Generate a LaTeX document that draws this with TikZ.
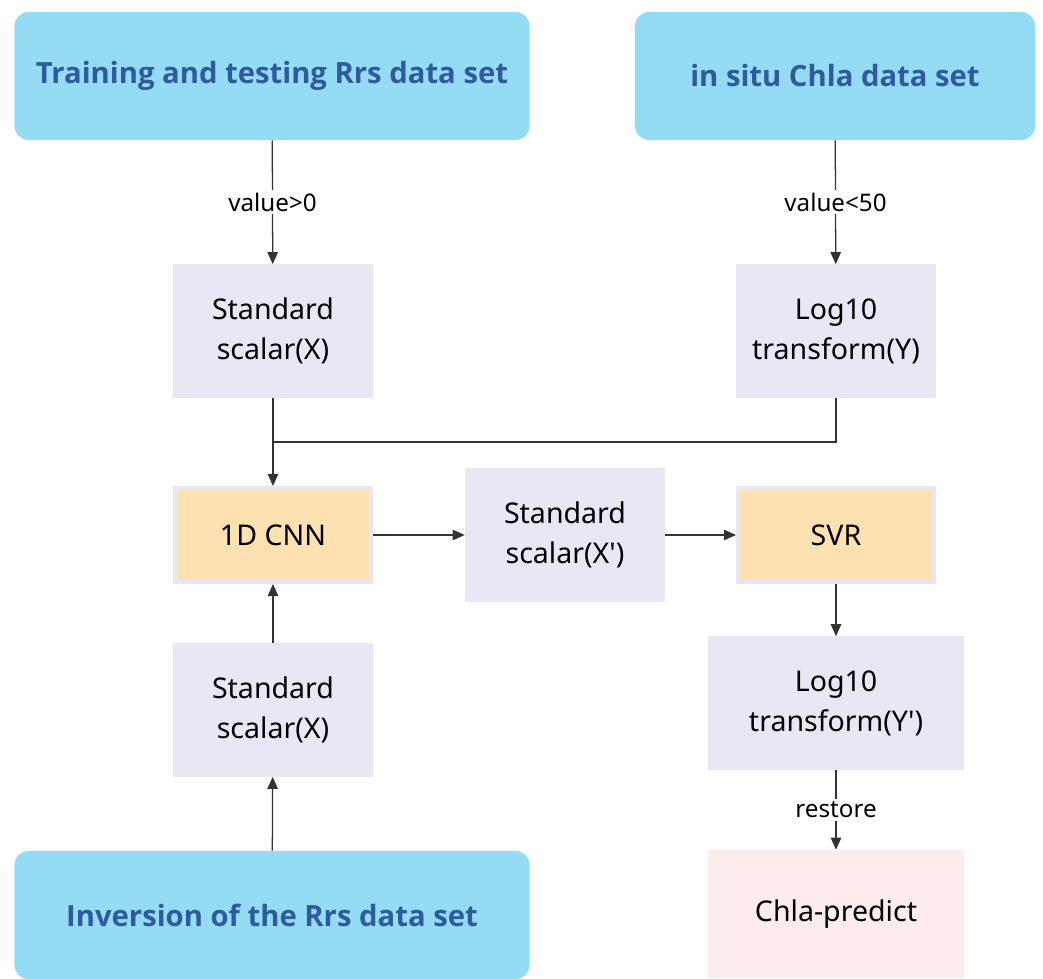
\documentclass[tikz,border=0pt]{standalone}
\usepackage{fontspec}
\setmainfont{Noto Sans}
\newfontfamily\titlefont{Open Sans}
\usetikzlibrary{arrows.meta}
\definecolor{skyfill}{HTML}{93DCF3}
\definecolor{titleblue}{HTML}{2F5A9E}
\definecolor{lavfill}{HTML}{E8E8F4}
\definecolor{orangefill}{HTML}{FDE1B1}
\definecolor{pinkfill}{HTML}{FDECEC}
\definecolor{linegray}{HTML}{333333}

\begin{document}
\begin{tikzpicture}[x=0.025cm,y=-0.025cm,
        dataset/.style={rectangle, rounded corners=0.35cm, fill=skyfill, text=titleblue,
            font=\titlefont\fontsize{20.8}{25}\selectfont\bfseries, minimum width=12.875cm, minimum height=3.2cm},
        stepbox/.style={rectangle, fill=lavfill, align=center, font=\fontsize{20.3}{28.5}\selectfont,
            minimum width=5cm, minimum height=3.325cm},
        modelbox/.style={rectangle, fill=orangefill, draw=lavfill, line width=0.1cm,
            font=\fontsize{20.3}{28.5}\selectfont, minimum width=4.9cm, minimum height=2.35cm},
        resultbox/.style={rectangle, fill=pinkfill, font=\fontsize{20.3}{28.5}\selectfont,
            minimum width=6.375cm, minimum height=3.2cm},
        cond/.style={fill=white, font=\fontsize{17.2}{20}\selectfont, inner sep=2pt},
        flow/.style={draw=linegray, line width=0.9pt, -{Triangle[length=0.3cm,width=0.26cm]}},
        plain/.style={draw=linegray, line width=0.9pt}]
    \useasboundingbox (0,0) rectangle (1043,978);

    \node[dataset] (rrs) at (272,76) {Training and testing Rrs data set};
    \node[dataset, minimum width=10cm] (chla) at (835,76) {in situ Chla data set};
    \node[stepbox] (scalX) at (273,331) {Standard\\scalar(X)};
    \node[stepbox] (logY) at (836,331) {Log10\\transform(Y)};
    \node[modelbox] (cnn) at (273,535) {1D CNN};
    \node[stepbox] (scalXp) at (565,535) {Standard\\scalar(X\textquotesingle)};
    \node[modelbox] (svr) at (836,535) {SVR};
    \node[stepbox, minimum width=6.375cm] (logYp) at (836,703) {Log10\\transform(Y\textquotesingle)};
    \node[resultbox] (pred) at (836,914) {Chla-predict};
    \node[stepbox] (scalXb) at (273,710) {Standard\\scalar(X)};
    \node[dataset] (inv) at (272,915) {Inversion of the Rrs data set};
    \coordinate (join) at (273,442);

    \draw[flow] (rrs) -- node[cond] {value>0} (scalX);
    \draw[flow] (chla) -- node[cond] {value<50} (logY);
    \draw[plain] (logY.south) |- (join);
    \draw[flow] (scalX) -- (cnn);
    \draw[flow] (cnn) -- (scalXp);
    \draw[flow] (scalXp) -- (svr);
    \draw[flow] (svr) -- (logYp);
    \draw[flow] (logYp) -- node[cond] {restore} (pred);
    \draw[flow] (scalXb) -- (cnn);
    \draw[flow] (inv) -- (scalXb);
\end{tikzpicture}
\end{document}
